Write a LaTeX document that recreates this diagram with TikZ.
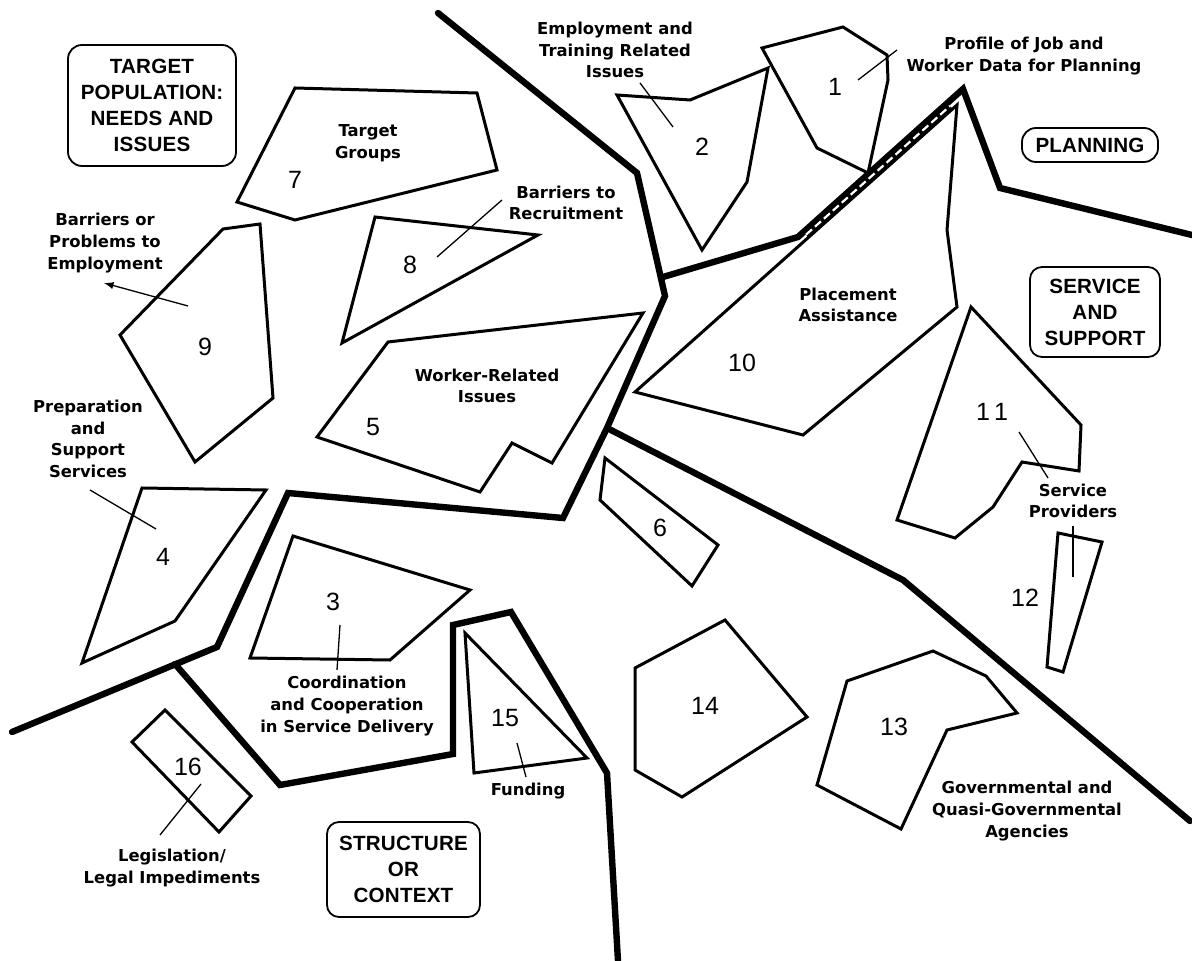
\documentclass[tikz,border=0pt]{standalone}
\usepackage{fontspec}
\setmainfont{Liberation Sans}
\newfontfamily\lblfont{DejaVu Sans}
\newfontfamily\boxfont{Liberation Sans}[LetterSpace=1]
\usepackage{tikz}

\begin{document}
\begin{tikzpicture}[
  x=0.5pt, y=-0.5pt,
  region/.style={line width=1.5pt},
  border/.style={line width=3.2pt, line cap=round},
  leader/.style={line width=0.65pt},
  lbl/.style={font=\lblfont\bfseries\fontsize{8.2}{10.8}\selectfont, align=center, inner sep=0pt},
  num/.style={font=\fontsize{12.5}{14}\selectfont, inner sep=0pt},
  areabox/.style={draw, line width=0.9pt, rounded corners=7pt, align=center, inner sep=0pt,
                  font=\boxfont\bfseries\fontsize{10.3}{13}\selectfont},
]

\path[fill=white, use as bounding box] (0,0) rectangle (1192,961);

% =====================================================
% region borders (thick)
% =====================================================
\draw[border] (438,13) -- (637,173) -- (665,296) -- (607,428) -- (563,518)
  -- (288,493) -- (217,647) -- (12,732);
\draw[border] (663,277) -- (798,237) -- (963,89) -- (1000,188) -- (1192,235);
\draw[border] (607,428) -- (903,580) -- (1190,821);
\draw[border] (175,664) -- (280,785) -- (453,754) -- (453,625) -- (511,612)
  -- (607,773) -- (618,961);

% ---------- area names ----------
\node[areabox, minimum width=84pt, minimum height=60.5pt] (tgtpop) at (152,105.5)
  {TARGET\\POPULATION:\\NEEDS AND\\ISSUES};
\node[areabox, minimum width=68pt, minimum height=17pt] (planning) at (1090,145) {PLANNING};
\node[areabox, minimum width=65pt, minimum height=45pt, rounded corners=6pt] (service) at (1095,312)
  {SERVICE\\AND\\SUPPORT};
\node[areabox, minimum width=76.5pt, minimum height=47.5pt, rounded corners=6pt] (structure) at (403.5,869.5)
  {STRUCTURE\\OR\\CONTEXT};

% =====================================================
% clusters
% =====================================================
\draw[region] (762,48) -- (843,27) -- (887,55) -- (888,80) -- (868,173) -- (817,148) -- cycle;   % 1
\draw[region] (617,95) -- (690,100) -- (768,68) -- (747,182) -- (702,250) -- cycle;             % 2
\draw[region] (293,536) -- (470,590) -- (390,660) -- (250,658) -- cycle;                        % 3
\draw[region] (142,488) -- (266,490) -- (175,621) -- (82,663) -- cycle;                         % 4
\draw[region] (388,342) -- (643,313) -- (552,463) -- (512,443) -- (480,492) -- (317,437) -- cycle; % 5
\draw[region] (605,458) -- (718,545) -- (692,586) -- (600,500) -- cycle;                        % 6
\draw[region] (295,88) -- (477,93) -- (497,170) -- (295,220) -- (237,202) -- cycle;             % 7
\draw[region] (375,217) -- (538,235) -- (342,343) -- cycle;                                     % 8
\draw[region] (223,229) -- (260,224) -- (273,398) -- (195,462) -- (120,335) -- cycle;           % 9
\draw[region] (635,392) -- (957,105) -- (947,230) -- (957,307) -- (803,435) -- cycle;           % 10
\draw[region] (971,307) -- (1081,425) -- (1079,471) -- (1022,462) -- (993,507) -- (955,538)
  -- (897,520) -- cycle;                                                                        % 11
\draw[region] (1058,533) -- (1102,542) -- (1063,672) -- (1047,667) -- cycle;                    % 12
\draw[region] (847,681) -- (933,651) -- (986,676) -- (1017,713) -- (947,730) -- (901,829)
  -- (817,785) -- cycle;                                                                        % 13
\draw[region] (725,620) -- (807,717) -- (682,797) -- (635,770) -- (635,668) -- cycle;           % 14
\draw[region] (465,633) -- (587,758) -- (474,773) -- cycle;                                     % 15
\draw[region] (165,710) -- (251,796) -- (219,832) -- (132,742) -- cycle;                        % 16

% shared edge of 10 and the planning border
\draw[line width=3.7pt] (806,234.7) -- (950,106);
\draw[white, line width=1.1pt, dash pattern=on 4pt off 2pt] (806,234.7) -- (950,106);

% ---------- numbers ----------
\node[num] (n1)  at (835,87)  {1};
\node[num] (n2)  at (702,147) {2};
\node[num] (n3)  at (333,602) {3};
\node[num] (n4)  at (163,557) {4};
\node[num] (n5)  at (373,427) {5};
\node[num] (n6)  at (660,528) {6};
\node[num] (n7)  at (295,180) {7};
\node[num] (n8)  at (410,265) {8};
\node[num] (n9)  at (205,347) {9};
\node[num] (n10) at (742,363) {10};
\node[num] (n11) at (992,412) {1\,1};
\node[num] (n12) at (1025,598) {12};
\node[num] (n13) at (894,727) {13};
\node[num] (n14) at (705,706) {14};
\node[num] (n15) at (505,718) {15};
\node[num] (n16) at (188,767) {16};

% ---------- cluster names ----------
\node[lbl] (profile)   at (1024,56)  {Profile of Job and\\Worker Data for Planning};
\node[lbl] (emptrain)  at (615,50)   {Employment and\\Training Related\\Issues};
\node[lbl] (tgroups)   at (368,143)  {Target\\Groups};
\node[lbl] (barrec)    at (566,203)  {Barriers to\\Recruitment};
\node[lbl] (barprob)   at (105,243)  {Barriers or\\Problems to\\Employment};
\node[lbl] (placement) at (848,305)  {Placement\\Assistance};
\node[lbl] (worker)    at (487,386)  {Worker-Related\\Issues};
\node[lbl] (prep)      at (88,439)   {Preparation\\and\\Support\\Services};
\node[lbl] (provider)  at (1073,501) {Service\\Providers};
\node[lbl] (coord)     at (347,706)  {Coordination\\and Cooperation\\in Service Delivery};
\node[lbl] (funding)   at (528,791)  {Funding};
\node[lbl] (govt)      at (1027,811) {Governmental and\\Quasi-Governmental\\Agencies};
\node[lbl] (legis)     at (172,868)  {Legislation/\\Legal Impediments};

% ---------- leaders ----------
\coordinate (l1a)  at (858,80);   \coordinate (l1b)  at (897,50);
\coordinate (l2a)  at (640,83);   \coordinate (l2b)  at (673,127);
\coordinate (l8a)  at (437,257);  \coordinate (l8b)  at (502,200);
\coordinate (l9a)  at (188,306);  \coordinate (l9b)  at (104,283);
\coordinate (l4a)  at (90,490);   \coordinate (l4b)  at (156,529);
\coordinate (l3a)  at (340,625);  \coordinate (l3b)  at (337,670);
\coordinate (l15a) at (517,743);  \coordinate (l15b) at (526,777);
\coordinate (l16a) at (201,784);  \coordinate (l16b) at (160,835);
\coordinate (l11a) at (1019,432); \coordinate (l11b) at (1048,478);
\coordinate (l12a) at (1073,526); \coordinate (l12b) at (1073,577);

\draw[leader] (l1a) -- (l1b);
\draw[leader] (l2a) -- (l2b);
\draw[leader] (l8a) -- (l8b);
\draw[leader, -latex] (l9a) -- (l9b);
\draw[leader] (l4a) -- (l4b);
\draw[leader] (l3a) -- (l3b);
\draw[leader] (l15a) -- (l15b);
\draw[leader] (l16a) -- (l16b);
\draw[leader] (l11a) -- (l11b);
\draw[leader] (l12a) -- (l12b);

\end{tikzpicture}
\end{document}
